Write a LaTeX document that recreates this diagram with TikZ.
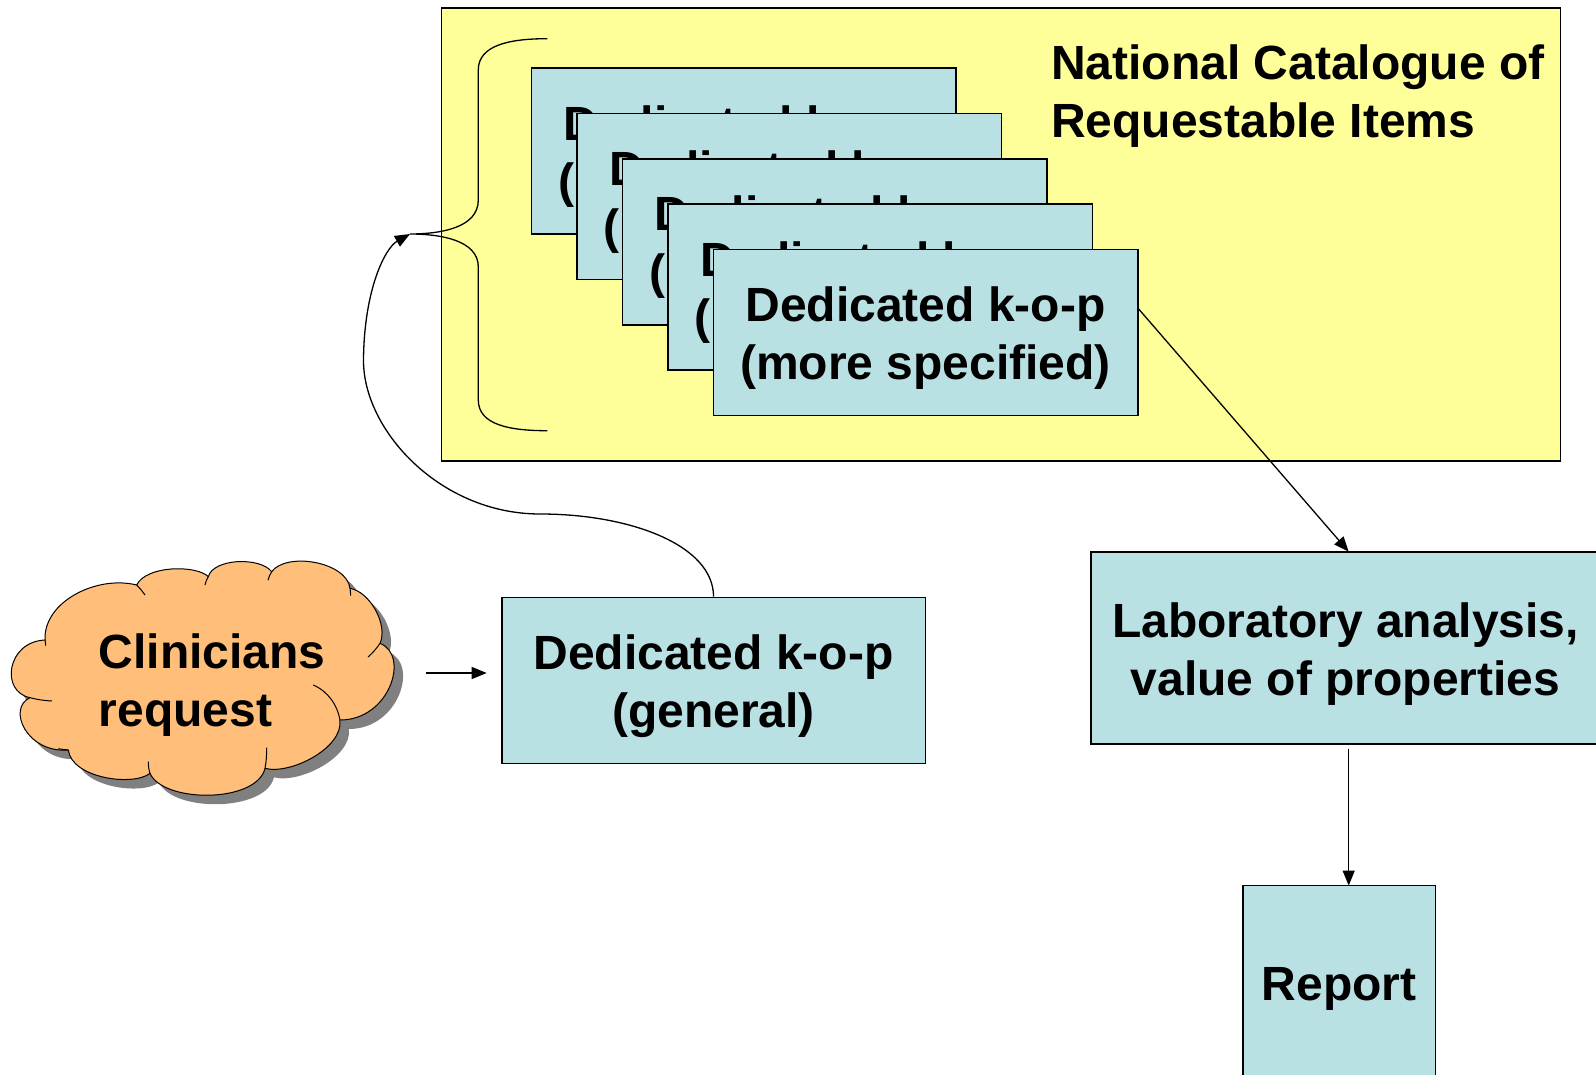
\documentclass[tikz,border=0pt]{standalone}
\usepackage{fontspec}
\setmainfont{Liberation Sans}
\usetikzlibrary{arrows.meta,calc}
\definecolor{boxblue}{RGB}{185,224,227}
\definecolor{catyellow}{RGB}{255,255,153}
\definecolor{cloudorange}{RGB}{255,190,122}
\definecolor{shadowgray}{RGB}{128,128,128}
\begin{document}
\begin{tikzpicture}[x=1pt,y=-1pt,
  bigtext/.style={font=\fontsize{48}{57.5}\selectfont\bfseries, inner sep=0pt},
  kopbox/.style={draw=black, line width=1.6pt, fill=boxblue, rectangle, inner sep=0pt, minimum width=424.5pt, minimum height=166pt},
  arr/.style={line width=1.3pt, -{Triangle[length=15pt,width=12pt]}},
  line/.style={line width=1.3pt},
  cloudline/.style={line width=1pt, line join=round}]
\useasboundingbox (0,0) rectangle (1596,1075);

% National catalogue
\node[draw=black, line width=1.6pt, fill=catyellow, rectangle, inner sep=0pt,
      minimum width=1119pt, minimum height=452.9pt] (cat) at (1001,234.55) {};
\node[bigtext, align=left, anchor=west] (cattitle) at (1051,95.9) {National Catalogue of\\Requestable Items};

% stacked boxes
\foreach \k in {0,...,4}{
  \node[kopbox] (k\k) at ({743.55+45.5*\k},{151.2+45.3*\k}) {};
  \node[bigtext, align=center] (t\k) at ({743.55+45.5*\k},{151.2+45.3*\k+5.5}) {Dedicated k-o-p\\(more specified)};
}

% brace
\coordinate (btip) at (410,234);
\draw[line] (547.3,38.7) .. controls (510,38.7) and (478.3,45) .. (478.3,70)
  -- (478.3,200) .. controls (478.3,228) and (440,234) .. (btip)
  .. controls (440,234) and (478.3,240) .. (478.3,267)
  -- (478.3,400) .. controls (478.3,425) and (510,430.7) .. (547.3,430.7);

% cloud (drawn in 1/3 units)
\def\mycloudpath{(410,120) .. controls (290,90) and (130,170) .. (135,285)
  .. controls (20,290) and (0,440) .. (90,458)
  .. controls (20,490) and (80,625) .. (205,615)
  .. controls (215,700) and (400,725) .. (450,685)
  .. controls (490,775) and (770,775) .. (795,670)
  .. controls (870,690) and (1030,610) .. (1020,525)
  .. controls (1170,525) and (1230,330) .. (1140,295)
  .. controls (1165,240) and (1110,140) .. (1050,130)
  .. controls (1040,50) and (860,20) .. (815,80)
  .. controls (780,35) and (640,40) .. (625,95)
  .. controls (590,60) and (440,60) .. (410,120) -- cycle}
\begin{scope}[shift={(9,554)}, scale=1/3]
  \fill[shadowgray] \mycloudpath;
\end{scope}
\begin{scope}[shift={(0,545)}, scale=1/3]
  \filldraw[cloudline, fill=cloudorange] \mycloudpath;
  \draw[cloudline] (410,120) .. controls (420,130) and (428,140) .. (435,150);
  \draw[cloudline] (625,95) .. controls (620,103) and (617,110) .. (615,120);
  \draw[cloudline] (815,80) .. controls (810,88) and (806,97) .. (804,106);
  \draw[cloudline] (1050,130) .. controls (1051,137) and (1052,144) .. (1052,152);
  \draw[cloudline] (1140,295) .. controls (1130,310) and (1118,324) .. (1104,336);
  \draw[cloudline] (1020,525) .. controls (1012,480) and (985,440) .. (940,420);
  \draw[cloudline] (795,670) .. controls (799,650) and (800,630) .. (800,608);
  \draw[cloudline] (450,685) .. controls (446,673) and (445,662) .. (445,650);
  \draw[cloudline] (205,615) .. controls (195,614) and (185,613) .. (175,611);
  \draw[cloudline] (90,458) .. controls (112,464) and (134,467) .. (156,468);
  \draw[cloudline] (135,285) .. controls (136,290) and (137,295) .. (137,302);
\end{scope}
\coordinate (cloud) at (200,676);
\node[bigtext, align=left, anchor=west] (cloudtext) at (98.5,685) {Clinicians\\request};

% general box
\node[kopbox, minimum width=423.5pt] (gen) at (713.55,680.5) {};
\node[bigtext, align=center] (gentext) at (713.55,686) {Dedicated k-o-p\\(general)};

% lab box
\node[draw=black, line width=1.6pt, fill=boxblue, rectangle, inner sep=0pt,
      minimum width=508.8pt, minimum height=192.4pt] (lab) at (1345.6,647.9) {};
\node[bigtext, align=center] (labtext) at (1345.6,653.9) {Laboratory analysis,\\value of properties};

% report
\node[draw=black, line width=1.6pt, fill=boxblue, rectangle, inner sep=0pt,
      minimum width=192.6pt, minimum height=196.4pt] (report) at (1339,983.8) {};
\node[bigtext, anchor=base] (reporttext) at (1339,1000.4) {Report};

% connectors
\coordinate (cs) at (425.5,673);
\coordinate (ce) at (486.7,673);
\draw[arr] (cs) -- (ce);

\draw[arr] (gen.north) .. controls (713.5,545) and (630,514) .. (540,514)
  .. controls (440,514) and (363,430) .. (363.5,360)
  .. controls (364,290) and (385,248) .. (btip);

\coordinate (k4out) at (1137.8,308);
\coordinate (labin) at (1348.7,551.7);
\draw[arr] (k4out) -- (labin);

\coordinate (labout) at (1348.7,748.5);
\coordinate (repin) at (1348.7,885.6);
\draw[arr] (labout) -- (repin);
\end{tikzpicture}
\end{document}
